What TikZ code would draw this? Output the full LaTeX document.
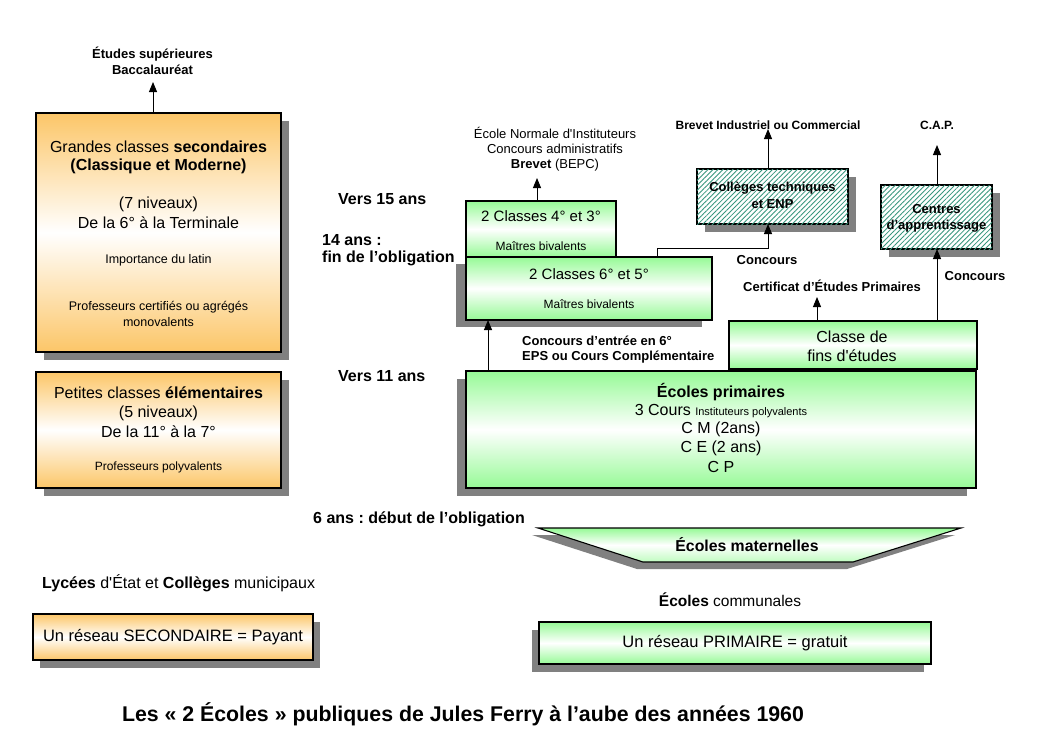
\documentclass[tikz,border=0pt]{standalone}
\usepackage{fontspec}
\setmainfont{Liberation Sans}
\usetikzlibrary{arrows.meta,patterns.meta,backgrounds}
\definecolor{org}{RGB}{252,198,104}
\definecolor{grn}{RGB}{150,250,150}
\definecolor{shd}{RGB}{128,128,128}
\definecolor{hatchc}{RGB}{55,150,125}
\newcommand\fsz[2]{\fontsize{#1}{#2}\selectfont}
\frenchspacing
\begin{document}
\begin{tikzpicture}[x=1pt,y=-1pt,
  box/.style={draw=black, line width=1.1pt, inner sep=0pt, outer sep=0pt},
  orangebox/.style={box, top color=org, bottom color=org, middle color=white},
  greenbox/.style={box, top color=grn, bottom color=grn, middle color=white},
  hatchbox/.style={box, fill=white, postaction={pattern={Lines[angle=45,distance=3.5pt,line width=0.85pt]}, pattern color=hatchc}},
  shadowfill/.style={fill=shd},
  txt/.style={inner sep=0pt, anchor=center, align=center},
  wtxt/.style={inner sep=0pt, anchor=west},
  big/.style={font=\fsz{16}{19}},
  bigb/.style={font=\bfseries\fsz{16}{19}},
  mid/.style={font=\fsz{15}{18}},
  midb/.style={font=\bfseries\fsz{16}{19}},
  sml/.style={font=\fsz{12.5}{15}},
  smlb/.style={font=\bfseries\fsz{13}{16}},
  tiny/.style={font=\fsz{12}{14}},
  arr/.style={line width=0.9pt, -{Triangle[width=8pt,length=10pt]}}
]
\useasboundingbox (0,0) rectangle (1059,739);

% ---------- boxes ----------
\node[orangebox, minimum width=245pt, minimum height=239pt] (A) at (158.5,232.5) {};
\node[orangebox, minimum width=245pt, minimum height=116pt] (B) at (158.5,430) {};
\node[greenbox, minimum width=150pt, minimum height=56pt] (C) at (541,229) {};
\node[greenbox, minimum width=246pt, minimum height=63pt] (D) at (589,288.5) {};
\node[hatchbox, minimum width=151pt, minimum height=55pt] (E) at (772.5,196.5) {};
\node[hatchbox, minimum width=111pt, minimum height=64pt] (F) at (936.5,217) {};
\node[greenbox, minimum width=248pt, minimum height=48pt] (G) at (853,345) {};
\node[greenbox, minimum width=510pt, minimum height=117pt] (H) at (721,429.5) {};
\node[orangebox, minimum width=280pt, minimum height=46pt] (J) at (173,637) {};
\node[greenbox, minimum width=392pt, minimum height=42pt] (K) at (735,643) {};

\coordinate (m1) at (538,528);
\coordinate (m2) at (961,528);
\coordinate (m3) at (853,562);
\coordinate (m4) at (643,562);
\path[box, top color=grn, bottom color=grn!60, middle color=white] (m1) -- (m2) -- (m3) -- (m4) -- cycle;

% ---------- shadows ----------
\begin{scope}[on background layer]
  \fill[shadowfill] ([shift={(8,8)}]A.north west) rectangle ([shift={(8,8)}]A.south east);
  \fill[shadowfill] ([shift={(8,8)}]B.north west) rectangle ([shift={(8,8)}]B.south east);
  \fill[shadowfill] ([shift={(-10,7)}]D.north west) rectangle ([shift={(-10,7)}]D.south east);
  \fill[shadowfill] ([shift={(8,8)}]E.north west) rectangle ([shift={(8,8)}]E.south east);
  \fill[shadowfill] ([shift={(8,8)}]F.north west) rectangle ([shift={(8,8)}]F.south east);
  \fill[shadowfill] ([shift={(-9,8)}]H.north west) rectangle ([shift={(-9,8)}]H.south east);
  \fill[shadowfill] ([shift={(7,8)}]J.north west) rectangle ([shift={(7,8)}]J.south east);
  \fill[shadowfill] ([shift={(-7,8)}]K.north west) rectangle ([shift={(-7,8)}]K.south east);
  \fill[shadowfill] ([shift={(-6,7)}]m1) -- ([shift={(-6,7)}]m2) -- ([shift={(-6,7)}]m3) -- ([shift={(-6,7)}]m4) -- cycle;
\end{scope}

% ---------- left column ----------
\node[txt, smlb] (etu) at (152.5,54) {Études supérieures};
\node[txt, smlb] (bac) at (152.5,70) {Baccalauréat};
\coordinate (bact) at (153,82);
\draw[arr] (A.north -| bact) -- (bact);

\node[txt, big] (a1) at (158.5,147) {Grandes classes \textbf{secondaires}};
\node[txt, bigb] (a2) at (158.5,166) {(Classique et Moderne)};
\node[txt, big] (a3) at (158.5,204) {(7 niveaux)};
\node[txt, big] (a4) at (158.5,223) {De la 6° à la Terminale};
\node[txt, sml] (a5) at (158.5,260) {Importance du latin};
\node[txt, sml] (a6) at (158.5,307) {Professeurs certifiés ou agrégés};
\node[txt, sml] (a7) at (158.5,322) {monovalents};

\node[txt, big] (b1) at (158.5,393) {Petites classes \textbf{élémentaires}};
\node[txt, big] (b2) at (158.5,413) {(5 niveaux)};
\node[txt, big] (b3) at (158.5,432) {De la 11° à la 7°};
\node[txt, tiny] (b4) at (158.5,467) {Professeurs polyvalents};

\node[wtxt, font=\fsz{16}{19}] (lyc) at (42,583) {\textbf{Lycées} d\textquotesingle État et \textbf{Collèges} municipaux};
\node[txt, font=\fsz{16.5}{19}] (jt) at (J.center) {Un réseau SECONDAIRE = Payant};

% ---------- age labels ----------
\node[wtxt, midb] (v15) at (338,199) {Vers 15 ans};
\node[wtxt, midb] (a14) at (322,240) {14 ans :};
\node[wtxt, midb] (fin) at (322,258) {fin de l’obligation};
\node[wtxt, midb] (v11) at (338,376) {Vers 11 ans};
\node[wtxt, midb] (a6ans) at (313,519) {6 ans : début de l’obligation};

% ---------- collège classes ----------
\node[txt, font=\fsz{13}{16}] (en1) at (555,133) {École Normale d\textquotesingle Instituteurs};
\node[txt, font=\fsz{13}{16}] (en2) at (555,149) {Concours administratifs};
\node[txt, font=\fsz{13}{16}] (en3) at (555,165) {\textbf{Brevet} (BEPC)};
\coordinate (t43) at (537,178);
\draw[arr] (C.north -| t43) -- (t43);

\node[txt, mid] (c1) at (541,216) {2 Classes 4° et 3°};
\node[txt, tiny] (c2) at (541,246) {Maîtres bivalents};
\node[txt, mid] (d1) at (589,274) {2 Classes 6° et 5°};
\node[txt, tiny] (d2) at (589,304) {Maîtres bivalents};

% ---------- technical ----------
\node[txt, font=\bfseries\fsz{12}{14}] (bic) at (768,125) {Brevet Industriel ou Commercial};
\coordinate (tcol) at (768,129);
\draw[arr] (E.north -| tcol) -- (tcol);
\node[txt, smlb] (e1) at (772.5,188) {Collèges techniques};
\node[txt, smlb] (e2) at (772.5,204) {et ENP};
\node[txt, smlb] (conc1) at (767,260) {Concours};
\coordinate (j1) at (657,248);
\draw[arr] (D.north -| j1) -- (j1) -| (E.south -| tcol);

\node[txt, font=\bfseries\fsz{12}{14}] (cap) at (937,125) {C.A.P.};
\coordinate (tcap) at (937,145);
\draw[arr] (F.north -| tcap) -- (tcap);
\node[txt, smlb] (f1) at (936.5,209) {Centres};
\node[txt, smlb] (f2) at (936.5,226) {d’apprentissage};
\node[txt, smlb] (conc2) at (975,276) {Concours};
\draw[arr] (G.north -| tcap) -- (F.south -| tcap);

\node[txt, smlb] (cert) at (832,286) {Certificat d’Études Primaires};
\coordinate (tcert) at (817,297);
\draw[arr] (G.north -| tcert) -- (tcert);
\node[txt, big] (g1) at (852,337) {Classe de};
\node[txt, big] (g2) at (852,356) {fins d\textquotesingle études};

% ---------- primary ----------
\coordinate (hx) at (488,371);
\draw[arr] (H.north -| hx) -- (D.south -| hx);
\node[wtxt, smlb] (ce1) at (522,341) {Concours d’entrée en 6°};
\node[wtxt, smlb] (ce2) at (522,357) {EPS ou Cours Complémentaire};

\node[txt, bigb] (h1) at (721,392) {Écoles primaires};
\node[txt, big] (h2) at (721,411) {3 Cours {\fsz{11}{13}Instituteurs polyvalents}};
\node[txt, big] (h3) at (721,429) {C M (2ans)};
\node[txt, big] (h4) at (721,448) {C E (2 ans)};
\node[txt, big] (h5) at (721,467) {C P};

\node[txt, font=\bfseries\fsz{15.8}{19}] (mat) at (747,545) {Écoles maternelles};
\node[txt, font=\fsz{15.5}{18}] (comm) at (730,600) {\textbf{Écoles} communales};
\node[txt, font=\fsz{16.5}{19}] (kt) at (K.center) {Un réseau PRIMAIRE = gratuit};

\node[txt, font=\bfseries\fsz{21.3}{25}] (title) at (463,714) {Les « 2 Écoles » publiques de Jules Ferry à l’aube des années 1960};
\end{tikzpicture}
\end{document}
